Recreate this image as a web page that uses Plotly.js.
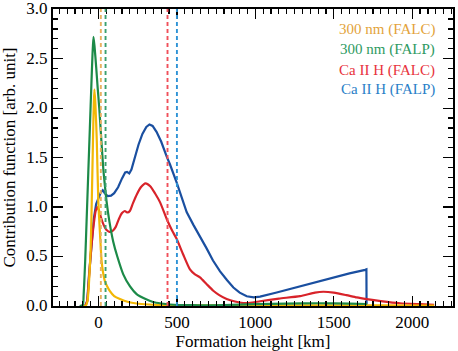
<!DOCTYPE html>
<html>
<head>
<meta charset="utf-8">
<script src="https://cdn.plot.ly/plotly-3.0.1.min.js"></script>
<style>
  body { margin: 0; background: #fff; }
  #chart { width: 458px; height: 351px; }
</style>
</head>
<body>
<div id="chart"></div>
<script>
// contribution functions (height in km, value in arb. unit)
const hYellow = [-110, -80, -70, -60, -50, -43, -36, -30, -26, -20, -11, -1, 10, 20, 30, 41, 55, 73, 100, 137, 190, 243, 320, 400, 600, 900, 1200, 1500, 1800, 2140];
const cfYellow = [0, 0.005, 0.05, 0.25, 0.58, 1.05, 1.6, 2.05, 2.19, 2.05, 1.68, 1.05, 0.72, 0.45, 0.33, 0.25, 0.2, 0.15, 0.1, 0.07, 0.04, 0.025, 0.015, 0.01, 0.006, 0.006, 0.006, 0.006, 0.006, 0.005];

const hGreen = [-120, -100, -95, -85, -75, -65, -55, -45, -38, -32, -25, -15, -5, 5, 18, 31, 42, 52, 70, 94, 120, 158, 200, 243, 300, 348, 400, 456, 600, 800, 1000, 1200, 1400, 1600, 1712];
const cfGreen = [0, 0.01, 0.1, 0.45, 0.9, 1.35, 1.8, 2.25, 2.55, 2.72, 2.62, 2.42, 2.2, 2.0, 1.68, 1.38, 1.2, 1.05, 0.85, 0.65, 0.5, 0.32, 0.2, 0.12, 0.07, 0.04, 0.025, 0.015, 0.008, 0.01, 0.018, 0.024, 0.028, 0.024, 0.02];

const hRed = [-85, -72, -60, -45, -30, -18, -8, 2, 15, 30, 50, 69, 90, 110, 130, 150, 168, 185, 200, 220, 245, 270, 300, 330, 360, 392, 435, 470, 498, 540, 583, 615, 647, 690, 732, 770, 817, 870, 923, 980, 1030, 1150, 1285, 1380, 1433, 1500, 1580, 1646, 1710, 1800, 1922, 2050, 2140];
const cfRed = [0, 0.05, 0.3, 0.6, 0.83, 0.96, 1.0, 0.97, 0.9, 0.83, 0.77, 0.75, 0.76, 0.8, 0.88, 0.94, 0.96, 0.945, 0.96, 1.04, 1.13, 1.2, 1.24, 1.21, 1.14, 1.05, 0.88, 0.76, 0.68, 0.52, 0.37, 0.32, 0.29, 0.22, 0.154, 0.11, 0.071, 0.045, 0.03, 0.035, 0.048, 0.075, 0.1, 0.135, 0.144, 0.135, 0.11, 0.087, 0.07, 0.05, 0.028, 0.018, 0.012];

const hBlue = [-85, -72, -60, -45, -30, -15, 0, 15, 27, 40, 60, 80, 100, 125, 150, 170, 182, 196, 210, 230, 255, 280, 305, 325, 345, 370, 400, 435, 456, 498, 520, 562, 605, 650, 690, 730, 775, 820, 860, 900, 945, 990, 1030, 1136, 1285, 1400, 1497, 1600, 1700, 1708, 1709];
const cfBlue = [0, 0.05, 0.32, 0.65, 0.88, 1.03, 1.1, 1.15, 1.17, 1.14, 1.11, 1.115, 1.14, 1.2, 1.29, 1.35, 1.355, 1.34, 1.38, 1.5, 1.63, 1.74, 1.81, 1.835, 1.82, 1.76, 1.66, 1.51, 1.43, 1.25, 1.15, 0.95, 0.82, 0.7, 0.58, 0.46, 0.35, 0.26, 0.187, 0.135, 0.098, 0.088, 0.095, 0.137, 0.2, 0.25, 0.293, 0.33, 0.365, 0.37, 0];

// mean formation heights (dashed lines)
const meanHeights = [15, 45, 440, 500];

const labels = ['300 nm (FALC)', '300 nm (FALP)', 'Ca II H (FALC)', 'Ca II H (FALP)'];
const lineColors = ['#F2B705', '#1C8A48', '#D8232A', '#1A4FA0'];
const textColors = ['#E3A33A', '#2E9A62', '#E8323C', '#2A80C8'];
const dashColors = ['#E9B060', '#3AA070', '#F0505A', '#2E93D6'];

const series = [
  { x: hBlue, y: cfBlue, i: 3 },
  { x: hRed, y: cfRed, i: 2 },
  { x: hYellow, y: cfYellow, i: 0 },
  { x: hGreen, y: cfGreen, i: 1 }
];

const traces = series.map(s => ({
  x: s.x, y: s.y, name: labels[s.i],
  type: 'scatter', mode: 'lines',
  line: { color: lineColors[s.i], width: 2.2, shape: s.i === 3 ? 'linear' : 'spline', smoothing: 0.6 },
  hoverinfo: 'skip'
}));

const shapes = meanHeights.map((h, i) => ({
  type: 'line', xref: 'x', yref: 'paper',
  x0: h, x1: h, y0: 0, y1: 1,
  line: { color: dashColors[i], width: 1.9, dash: '4px,3px' }
}));

const serif = '"Liberation Serif", "DejaVu Serif", "Times New Roman", Times, serif';

const annotations = labels.map((t, i) => ({
  text: t, xref: 'paper', yref: 'paper',
  x: 0.96, y: [0.93, 0.862, 0.794, 0.729][i],
  xanchor: 'right', yanchor: 'middle', showarrow: false,
  font: { family: serif, size: 15, color: textColors[i] }
}));

const font = { family: serif, size: 17, color: '#000' };

const axisBase = {
  showgrid: false, zeroline: false,
  showline: true, linecolor: '#000', linewidth: 2,
  mirror: 'allticks', ticks: 'inside', ticklen: 10, tickwidth: 1.2, tickcolor: '#000',
  tickfont: font, ticklabeloverflow: 'allow'
};

const layout = {
  width: 458, height: 351,
  margin: { l: 53, r: 5, t: 9, b: 45 },
  paper_bgcolor: '#fff', plot_bgcolor: '#fff',
  showlegend: false,
  font: font,
  xaxis: Object.assign({}, axisBase, {
    range: [-290, 2260], dtick: 500, tick0: 0,
    minor: { dtick: 50, ticks: 'inside', ticklen: 5, tickwidth: 1.2, tickcolor: '#000', showgrid: false },
    title: { text: 'Formation height [km]', font: font, standoff: 4 }
  }),
  yaxis: Object.assign({}, axisBase, {
    range: [0, 3.002], dtick: 0.5, tick0: 0, tickformat: '.1f', ticklabelshift: -1,
    minor: { dtick: 0.1, ticks: 'inside', ticklen: 5, tickwidth: 1.2, tickcolor: '#000', showgrid: false },
    title: { text: 'Contribution function [arb. unit]', font: font, standoff: 6 }
  }),
  shapes: shapes,
  annotations: annotations
};

Plotly.newPlot('chart', traces, layout, { staticPlot: true });
</script>
</body>
</html>
